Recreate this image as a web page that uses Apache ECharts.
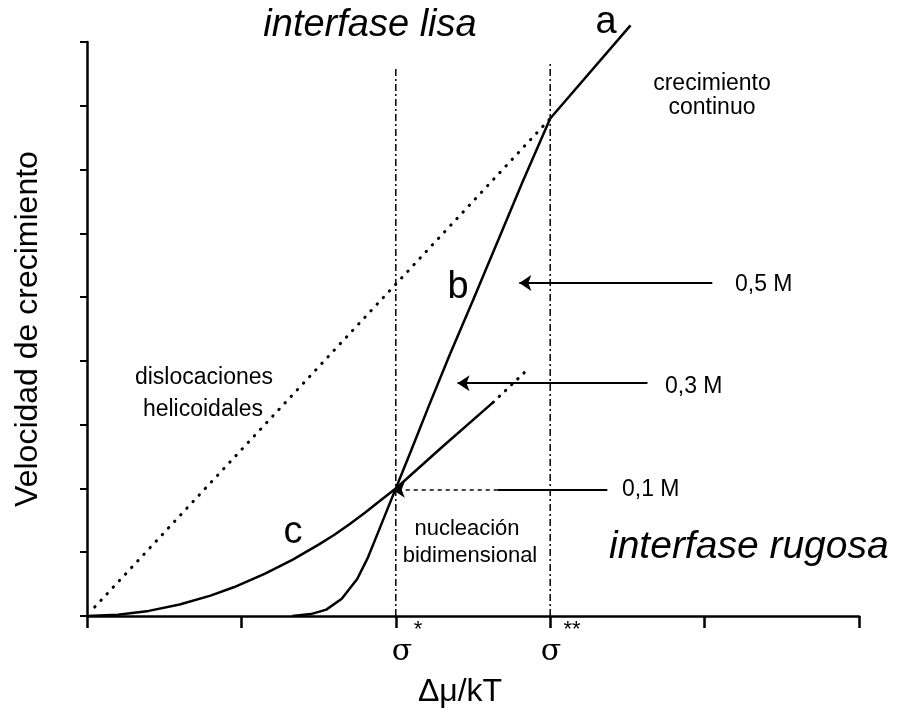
<!DOCTYPE html>
<html>
<head>
<meta charset="utf-8">
<title>Velocidad de crecimiento</title>
<script src="https://cdn.jsdelivr.net/npm/echarts@6/dist/echarts.min.js"></script>
<style>
    html, body { margin: 0; padding: 0; background: #fff; }
    #chart { width: 910px; height: 719px; }
</style>
</head>
<body>
<div id="chart"></div>
<script>
let chart = echarts.init(document.getElementById("chart"));

// curvas  [Δμ/kT, velocidad]
let curveA = [[3, 7.8], [3.52, 9.26]];
let curveB = [[1.33, 0], [1.45, 0.03], [1.55, 0.1], [1.65, 0.27], [1.75, 0.58], [1.82, 0.92],
    [1.88, 1.28], [1.94, 1.64], [2, 2], [2.1, 2.6], [2.22, 3.33], [2.35, 4.1], [2.5, 4.95],
    [2.69, 6.05], [2.82, 6.8], [3, 7.8]];
let curveC = [[0, 0], [0.2, 0.02], [0.4, 0.08], [0.6, 0.18], [0.8, 0.32], [0.95, 0.45],
    [1.15, 0.66], [1.33, 0.88], [1.5, 1.12], [1.6, 1.27], [1.7, 1.44], [1.8, 1.62],
    [1.9, 1.81], [2, 2], [2.3, 2.65], [2.63, 3.35]];
let curveCext = [[2.63, 3.35], [2.86, 3.88]];
let dislocaciones = [[0.05, 0.14], [3, 7.8]];

// sigma* y sigma**
let sigmaX = [2, 3];
let sigmaTop = [8.6, 8.7];

// flechas de concentracion: [desde, hasta, y]
let arrow05 = [4.05, 2.8, 5.22];
let arrow03 = [3.63, 2.4, 3.65];
let arrow01 = [3.37, 2.66, 1.98, 1.98]; // solido hasta 2.66, luego punteado hasta 1.98

let FONT = "Liberation Sans, Arial, sans-serif";

function txt(str, x, y, size, opts) {
    opts = opts || {};
    return {
        type: "text",
        x: x,
        y: y,
        rotation: opts.rotation || 0,
        style: {
            text: str,
            fill: "#000",
            font: (opts.italic ? "italic " : "") + size + "px " + (opts.family || FONT),
            align: opts.align || "center",
            verticalAlign: "middle"
        }
    };
}

let solid = { color: "#000", width: 2.5 };

let option = {
    animation: false,
    grid: { left: 87, right: 51, top: 42, bottom: 103 },
    xAxis: {
        type: "value",
        min: 0,
        max: 5,
        interval: 1,
        axisLine: { lineStyle: { color: "#000", width: 2.5 } },
        axisTick: { show: true, inside: false, length: 12, lineStyle: { color: "#000", width: 2.5 } },
        axisLabel: { show: false },
        splitLine: { show: false }
    },
    yAxis: {
        type: "value",
        min: 0,
        max: 9,
        interval: 1,
        axisLine: { show: true, lineStyle: { color: "#000", width: 2.5 } },
        axisTick: { show: true, inside: false, length: 7, lineStyle: { color: "#000", width: 2 } },
        axisLabel: { show: false },
        splitLine: { show: false }
    },
    series: [
        {
            name: "a", type: "line", data: curveA, symbol: "none", clip: false,
            lineStyle: solid
        },
        {
            name: "b", type: "line", data: curveB, symbol: "none", lineStyle: solid
        },
        {
            name: "c", type: "line", data: curveC, symbol: "none", lineStyle: solid
        },
        {
            name: "c ext", type: "line", data: curveCext, symbol: "none",
            lineStyle: { color: "#000", width: 3, type: [0.5, 8], cap: "round" }
        },
        {
            name: "dislocaciones", type: "line", data: dislocaciones, symbol: "none",
            lineStyle: { color: "#000", width: 3, type: [0.5, 8.5], cap: "round" }
        },
        {
            name: "sigma*", type: "line", data: [[sigmaX[0], 0], [sigmaX[0], sigmaTop[0]]], symbol: "none",
            lineStyle: { color: "#000", width: 1.5, type: [7, 3, 2, 3] }
        },
        {
            name: "sigma**", type: "line", data: [[sigmaX[1], 0], [sigmaX[1], sigmaTop[1]]], symbol: "none",
            lineStyle: { color: "#000", width: 1.5, type: [7, 3, 2, 3] }
        },
        {
            name: "flechas", type: "line", data: [], symbol: "none",
            markLine: {
                silent: true,
                symbol: ["none", "arrow"],
                symbolSize: 12,
                label: { show: false },
                lineStyle: { color: "#000", width: 2, type: "solid" },
                data: [
                    [{ coord: [arrow05[0], arrow05[2]] }, { coord: [arrow05[1], arrow05[2]] }],
                    [{ coord: [arrow03[0], arrow03[2]] }, { coord: [arrow03[1], arrow03[2]] }],
                    [{ coord: [arrow01[0], arrow01[3]] }, { coord: [arrow01[1], arrow01[3]], symbol: "none" }],
                    [{ coord: [arrow01[1], arrow01[3]], lineStyle: { type: [4, 4], width: 1.5 } },
                        { coord: [arrow01[2], arrow01[3]] }]
                ]
            }
        }
    ],
    graphic: [
        txt("interfase lisa", 370, 25, 38, { italic: true }),
        txt("a", 606, 23, 38),
        txt("crecimiento", 712, 84, 23),
        txt("continuo", 712, 108, 23),
        txt("b", 458, 288, 38),
        txt("0,5 M", 735, 285, 23, { align: "left" }),
        txt("0,3 M", 665, 387, 23, { align: "left" }),
        txt("0,1 M", 622, 490, 23, { align: "left" }),
        txt("dislocaciones", 204, 378, 23),
        txt("helicoidales", 203, 410, 23),
        txt("c", 293, 533, 38),
        txt("nucleación", 467, 529, 22),
        txt("bidimensional", 470, 556, 22),
        txt("interfase rugosa", 609, 547, 39, { italic: true, align: "left" }),
        txt("σ", 402, 652, 30, { family: "DejaVu Serif, serif" }),
        txt("*", 418, 630, 22),
        txt("σ", 551, 652, 30, { family: "DejaVu Serif, serif" }),
        txt("**", 572, 630, 22),
        txt("Δμ/kT", 460, 692, 32),
        txt("Velocidad de crecimiento", 28, 329, 32, { rotation: Math.PI / 2 })
    ]
};

chart.setOption(option);
window.addEventListener('resize', function () { chart.resize(); });
</script>
</body>
</html>
